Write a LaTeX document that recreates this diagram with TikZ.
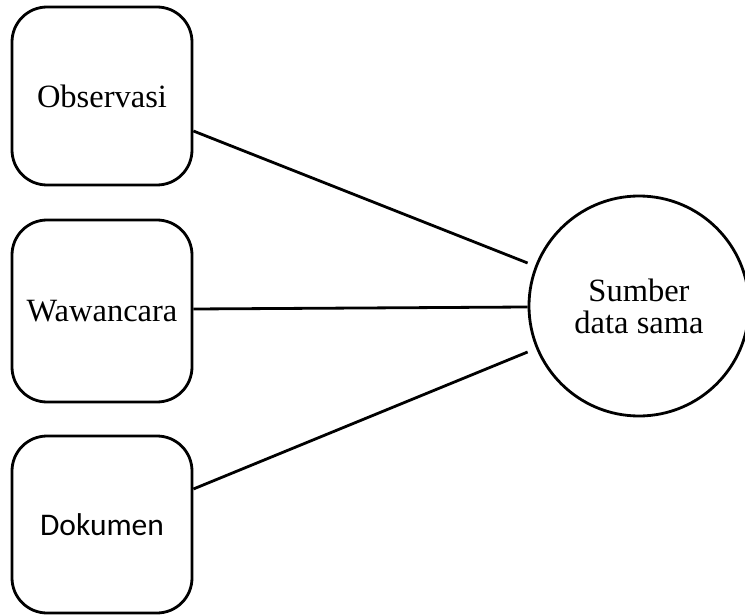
\documentclass[tikz,border=0pt]{standalone}
\usepackage{fontspec}
\setmainfont{Liberation Serif}
\newfontfamily\calib{Carlito}
\usetikzlibrary{calc}
\begin{document}
\begin{tikzpicture}[x=1pt,y=-1pt,
  boxnode/.style={draw,line width=2.8pt,rounded corners=35pt,minimum width=180pt,inner sep=0pt,font=\fontsize{32.5}{33}\selectfont},
  conn/.style={line width=2.8pt}]
\useasboundingbox (0,0) rectangle (745,615);
\begin{scope}
\clip (0,0) rectangle (745,615);
\node[boxnode,minimum height=178pt] (b1) at (102,96) {Observasi};
\node[boxnode,minimum height=182pt] (b2) at (102,311) {Wawancara};
\node[boxnode,minimum height=177pt,font=\calib\fontsize{31.5}{33}\selectfont] (b3) at (102,524.5) {Dokumen};
\node[draw,circle,line width=2.8pt,minimum size=220pt,inner sep=0pt,align=center,font=\fontsize{32.5}{32}\selectfont] (c) at (639,306) {Sumber\\data sama};
\coordinate (e1) at ($(c.west)+(0,-43)$);
\coordinate (e2) at ($(c.west)+(0,1)$);
\coordinate (e3) at ($(c.west)+(0,46)$);
\draw[conn] ($(b1.east)+(0,35)$) -- (e1);
\draw[conn] ($(b2.east)+(0,-2)$) -- (e2);
\draw[conn] ($(b3.east)+(0,-35.5)$) -- (e3);
\end{scope}
\end{tikzpicture}
\end{document}
